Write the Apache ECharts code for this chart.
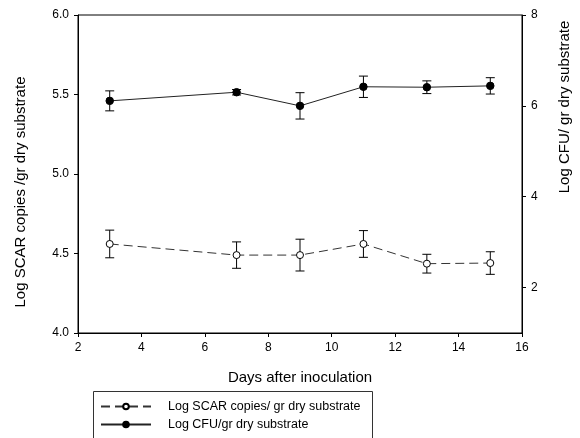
<!DOCTYPE html>
<html>
<head>
<meta charset="utf-8">
<script src="https://cdn.jsdelivr.net/npm/echarts@6/dist/echarts.min.js"></script>
<style>
  html, body { margin: 0; padding: 0; background: #fff; }
  #chart { width: 580px; height: 438px; }
</style>
</head>
<body>
<div id="chart"></div>
<script>
// days after inoculation
var days = [3, 7, 9, 11, 13, 15];
// Log SCAR copies / gr dry substrate (left axis)
var scarMean = [4.56, 4.49, 4.49, 4.56, 4.436, 4.44];
var scarErr = [0.087, 0.083, 0.10, 0.084, 0.059, 0.071];
// Log CFU / gr dry substrate (right axis)
var cfuMean = [6.11, 6.30, 6.00, 6.42, 6.41, 6.44];
var cfuErr = [0.22, 0.06, 0.29, 0.235, 0.14, 0.18];
var rightTicks = [2, 4, 6, 8];

var font = 'Liberation Sans, Arial, sans-serif';

function pairs(xs, ys) {
  return xs.map(function (x, i) { return [x, ys[i]]; });
}
function errData(xs, ys, es) {
  return xs.map(function (x, i) { return [x, ys[i] - es[i], ys[i] + es[i]]; });
}

// error bar with small caps
function errorBar(params, api) {
  var lo = api.coord([api.value(0), api.value(1)]);
  var hi = api.coord([api.value(0), api.value(2)]);
  var w = 4.5;
  var st = { stroke: '#000', lineWidth: 1 };
  return {
    type: 'group',
    children: [
      { type: 'line', shape: { x1: lo[0], y1: lo[1], x2: hi[0], y2: hi[1] }, style: st },
      { type: 'line', shape: { x1: lo[0] - w, y1: lo[1], x2: lo[0] + w, y2: lo[1] }, style: st },
      { type: 'line', shape: { x1: hi[0] - w, y1: hi[1], x2: hi[0] + w, y2: hi[1] }, style: st }
    ]
  };
}

var chart = echarts.init(document.getElementById('chart'));
chart.setOption({
  animation: false,
  grid: {
    left: 78, right: 58, top: 15, bottom: 105,
    show: true, borderColor: '#000', borderWidth: 1
  },
  // legend frame, runs off the bottom like the original
  graphic: [{
    type: 'rect', silent: true,
    shape: { x: 93.5, y: 391.5, width: 279, height: 60 },
    style: { fill: 'none', stroke: '#333', lineWidth: 1 }
  }],
  legend: {
    orient: 'vertical',
    left: 100, top: 400,
    padding: 0,
    itemWidth: 50, itemHeight: 7, itemGap: 5,
    textStyle: { fontFamily: font, fontSize: 12.5, lineHeight: 12, color: '#000', padding: [0, 0, 0, 12] },
    data: ['Log SCAR copies/ gr dry substrate', 'Log CFU/gr dry substrate']
  },
  xAxis: {
    type: 'value', min: 2, max: 16, interval: 2,
    name: 'Days after inoculation', nameLocation: 'middle', nameGap: 37,
    nameTextStyle: { fontFamily: font, fontSize: 15, color: '#000' },
    axisLine: { lineStyle: { color: '#000' } },
    axisTick: { length: 4, lineStyle: { color: '#000' } },
    axisLabel: { fontFamily: font, fontSize: 12, color: '#000', margin: 9 },
    splitLine: { show: false }
  },
  yAxis: [{
    type: 'value', min: 4, max: 6, interval: 0.5,
    name: 'Log SCAR copies /gr dry substrate', nameLocation: 'middle', nameGap: 50,
    nameTextStyle: { fontFamily: font, fontSize: 15, color: '#000', padding: [0, 36, 0, 0] },
    axisLine: { show: true, lineStyle: { color: '#000' } },
    axisTick: { show: true, length: 4, lineStyle: { color: '#000' } },
    axisLabel: { fontFamily: font, fontSize: 12, color: '#000', margin: 9,
      formatter: function (v) { return v.toFixed(1); } },
    splitLine: { show: false }
  }, {
    type: 'value', min: 1, max: 8, position: 'right',
    name: 'Log CFU/ gr dry substrate', nameLocation: 'middle', nameGap: 35,
    nameTextStyle: { fontFamily: font, fontSize: 15, color: '#000', padding: [0, 0, 0, 134] },
    axisLine: { show: true, lineStyle: { color: '#000' } },
    axisTick: { show: true, length: 4, lineStyle: { color: '#000' }, customValues: rightTicks },
    axisLabel: { fontFamily: font, fontSize: 12, color: '#000', margin: 9, customValues: rightTicks },
    splitLine: { show: false }
  }],
  series: [{
    name: 'Log SCAR copies/ gr dry substrate',
    type: 'line', yAxisIndex: 0, z: 3,
    data: pairs(days, scarMean),
    symbol: 'circle', symbolSize: 7,
    itemStyle: { color: '#fff', borderColor: '#000', borderWidth: 1 },
    lineStyle: { color: '#333', width: 1, type: [9, 5] }
  }, {
    name: 'Log CFU/gr dry substrate',
    type: 'line', yAxisIndex: 1, z: 3,
    data: pairs(days, cfuMean),
    symbol: 'circle', symbolSize: 7.5,
    itemStyle: { color: '#000', borderColor: '#000', borderWidth: 1 },
    lineStyle: { color: '#222', width: 1 }
  }, {
    type: 'custom', yAxisIndex: 0, z: 2,
    renderItem: errorBar,
    encode: { x: 0, y: [1, 2] },
    data: errData(days, scarMean, scarErr)
  }, {
    type: 'custom', yAxisIndex: 1, z: 2,
    renderItem: errorBar,
    encode: { x: 0, y: [1, 2] },
    data: errData(days, cfuMean, cfuErr)
  }]
});
</script>
</body>
</html>
